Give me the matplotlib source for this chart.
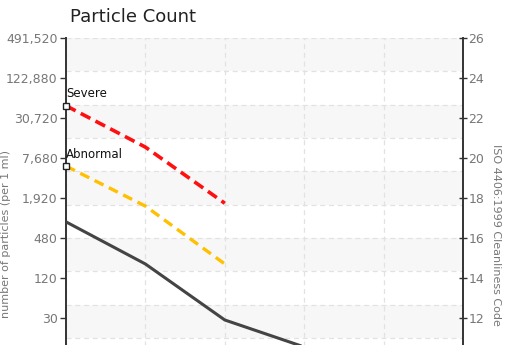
import numpy as np
import matplotlib
matplotlib.use("Agg")
import matplotlib.pyplot as plt

# values
x_pos = [0, 1, 2, 3]
particle_count = [840, 195, 28, 11]
severe = [47000, 11200, 1600]
abnormal = [5800, 1450, 195]
left_ticks = [491520, 122880, 30720, 7680, 1920, 480, 120, 30]
left_labels = ["491,520", "122,880", "30,720", "7,680", "1,920", "480", "120", "30"]
right_ticks = list(range(12, 27, 2))

grey = "#777777"

fig = plt.figure(figsize=(5.08, 3.45), dpi=100)
# plot area continues below the bottom edge of the image (cropped chart)
ax = fig.add_axes([66 / 508, 1 - 38 / 345 - 400 / 345, 397 / 508, 400 / 345])

ax.set_yscale("log", base=2)
ax.set_ylim(491520 / 2**20, 491520)
ax.set_xlim(0, 5)

# alternating bands and dashed horizontal grid (12 divisions)
n_div = 12
for k in range(n_div):
    f1 = 1 - k / n_div
    f0 = 1 - (k + 1) / n_div
    if k % 2 == 0:
        ax.add_patch(plt.Rectangle((0, f0), 1, f1 - f0, transform=ax.transAxes,
                                   color="#f7f7f7", zorder=0, lw=0))
    ax.plot([0, 1], [f1, f1], transform=ax.transAxes, color="#e2e2e2",
            lw=0.9, ls=(0, (4, 3)), zorder=1)

ax.set_xticks(range(6))
ax.xaxis.grid(True, color="#e2e2e2", lw=0.9, ls=(0, (4, 3)))
ax.tick_params(axis="x", bottom=False, labelbottom=False)
ax.set_axisbelow(True)

ax.plot(x_pos, particle_count, color="#444444", lw=2.2, zorder=4, solid_capstyle="butt")
ax.plot(range(len(severe)), severe, color="#ff1010", lw=2.6, ls=(0, (3, 1.6)),
        marker="s", markevery=[0], ms=5, mfc="white", mec="#222222", mew=1.0,
        zorder=5, clip_on=False)
ax.plot(range(len(abnormal)), abnormal, color="#ffc000", lw=2.4, ls=(0, (3, 1.8)),
        marker="s", markevery=[0], ms=5, mfc="white", mec="#222222", mew=1.0,
        zorder=5, clip_on=False)
ax.text(0, severe[0] * 1.2, "Severe", fontsize=8.5, color="#111111", ha="left", va="bottom")
ax.text(0, abnormal[0] * 1.2, "Abnormal", fontsize=8.5, color="#111111", ha="left", va="bottom")

ax.set_yticks(left_ticks)
ax.set_yticklabels(left_labels)
ax.yaxis.set_minor_locator(matplotlib.ticker.NullLocator())
ax.tick_params(axis="y", direction="out", length=4, width=1, color="#333333",
               labelcolor=grey, labelsize=9, pad=2)

for s in ["top", "bottom", "right"]:
    ax.spines[s].set_visible(False)
ax.spines["left"].set_color("#333333")
ax.spines["left"].set_linewidth(1.4)

ax2 = ax.twinx()
ax2.set_ylim(6, 26)
ax2.set_yticks(right_ticks)
ax2.tick_params(axis="y", direction="inout", length=6, width=1, color="#333333",
                labelcolor=grey, labelsize=9, pad=1)
for s in ["top", "bottom", "left"]:
    ax2.spines[s].set_visible(False)
ax2.spines["right"].set_color("#333333")
ax2.spines["right"].set_linewidth(1.4)

fig.text(70 / 508, 1 - 17 / 345, "Particle Count", fontsize=13, color="#222222",
         ha="left", va="center")
fig.text(6 / 508, 1 - 234 / 345, "number of particles (per 1 ml)", rotation=90,
         fontsize=8, color=grey, ha="center", va="center")
fig.text(496 / 508, 1 - 235 / 345, "ISO 4406:1999 Cleanliness Code", rotation=270,
         fontsize=8, color=grey, ha="center", va="center")

fig.savefig("out.png", dpi=100)
